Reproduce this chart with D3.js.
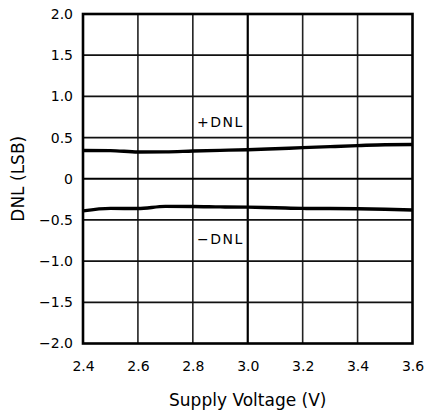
<!DOCTYPE html>
<html>
<head>
<meta charset="utf-8">
<script src="https://cdn.jsdelivr.net/npm/d3@7"></script>
<style>
  html, body { margin: 0; padding: 0; background: #fff; }
  svg { display: block; }
  text { font-family: "DejaVu Sans", sans-serif; fill: #000; }
</style>
</head>
<body>
<svg id="chart" width="427" height="418"></svg>
<script>
// Supply voltage (V) sample points
const voltage = [2.4, 2.5, 2.6, 2.7, 2.8, 2.9, 3.0, 3.1, 3.2, 3.3, 3.4, 3.5, 3.6];
// Positive and negative DNL (LSB) at each supply voltage
const dnlPos = [0.343, 0.342, 0.324, 0.326, 0.336, 0.345, 0.352, 0.364, 0.378, 0.390, 0.402, 0.413, 0.415];
const dnlNeg = [-0.390, -0.360, -0.362, -0.335, -0.336, -0.342, -0.345, -0.352, -0.360, -0.362, -0.365, -0.371, -0.380];

// Axis ticks and their labels
const xTicks = [2.4, 2.6, 2.8, 3.0, 3.2, 3.4, 3.6];
const xTickLabels = ["2.4", "2.6", "2.8", "3.0", "3.2", "3.4", "3.6"];
const yTicks = [2.0, 1.5, 1.0, 0.5, 0, -0.5, -1.0, -1.5, -2.0];
const yTickLabels = ["2.0", "1.5", "1.0", "0.5", "0", "\u22120.5", "\u22121.0", "\u22121.5", "\u22122.0"];

const svg = d3.select("#chart");
const plotL = 83, plotR = 412.5, plotT = 14, plotB = 343.5;

const x = d3.scaleLinear().domain([2.4, 3.6]).range([plotL, plotR]);
const y = d3.scaleLinear().domain([-2, 2]).range([plotB, plotT]);

// Grid
const grid = svg.append("g");
grid.selectAll("line.v").data(xTicks.slice(1, -1)).join("line")
  .attr("x1", d => x(d)).attr("x2", d => x(d))
  .attr("y1", plotT).attr("y2", plotB)
  .attr("stroke", d => d === 3.0 ? "#000" : "#222")
  .attr("stroke-width", d => d === 3.0 ? 2.2 : 1.6);
grid.selectAll("line.h").data(yTicks.slice(1, -1)).join("line")
  .attr("y1", d => y(d)).attr("y2", d => y(d))
  .attr("x1", plotL).attr("x2", plotR)
  .attr("stroke", d => d === 0 ? "#000" : "#111")
  .attr("stroke-width", d => d === 0 ? 2.2 : 1.8);

// Frame
svg.append("rect")
  .attr("x", plotL).attr("y", plotT)
  .attr("width", plotR - plotL).attr("height", plotB - plotT)
  .attr("fill", "none").attr("stroke", "#000").attr("stroke-width", 2.6);

// Axes labels (ticks drawn as text only)
const xAxis = d3.axisBottom(x)
  .tickValues(xTicks)
  .tickFormat((d, i) => xTickLabels[i])
  .tickSize(0).tickPadding(18);
svg.append("g").attr("transform", `translate(0,${plotB})`).call(xAxis)
  .call(g => g.select(".domain").remove())
  .call(g => g.selectAll("text").attr("font-size", 14).attr("font-family", "DejaVu Sans"));

const yAxis = d3.axisLeft(y)
  .tickValues(yTicks)
  .tickFormat((d, i) => yTickLabels[i])
  .tickSize(0).tickPadding(10);
svg.append("g").attr("transform", `translate(${plotL},0)`).call(yAxis)
  .call(g => g.select(".domain").remove())
  .call(g => g.selectAll("text").attr("font-size", 14).attr("font-family", "DejaVu Sans"));

// Data curves
const line = d3.line().x(d => x(d[0])).y(d => y(d[1])).curve(d3.curveMonotoneX);
[dnlPos, dnlNeg].forEach(series => {
  svg.append("path")
    .datum(voltage.map((v, i) => [v, series[i]]))
    .attr("d", line)
    .attr("fill", "none")
    .attr("stroke", "#000")
    .attr("stroke-width", 3.4)
    .attr("stroke-linejoin", "round");
});

// Curve labels
svg.append("text").attr("x", 197).attr("y", 126.5)
  .attr("font-size", 14).attr("letter-spacing", 1.5).text("+DNL");
svg.append("text").attr("x", 197).attr("y", 244)
  .attr("font-size", 14).attr("letter-spacing", 1.5).text("\u2212DNL");

// Axis titles
svg.append("text")
  .attr("x", (plotL + plotR) / 2).attr("y", 406)
  .attr("text-anchor", "middle").attr("font-size", 17)
  .text("Supply Voltage (V)");
svg.append("text")
  .attr("transform", `translate(24,${(plotT + plotB) / 2}) rotate(-90)`)
  .attr("text-anchor", "middle").attr("font-size", 17)
  .text("DNL (LSB)");
</script>
</body>
</html>
